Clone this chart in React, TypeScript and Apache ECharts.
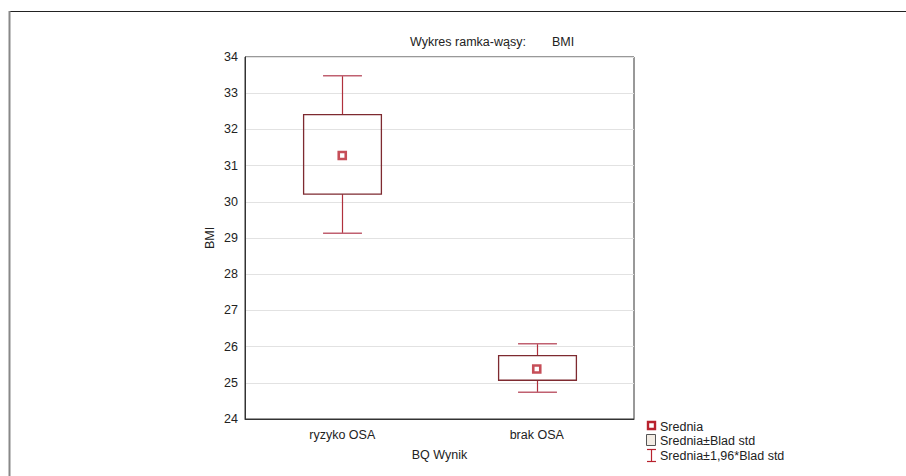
import React, { useEffect, useRef } from "react";
import * as echarts from "echarts";

const categories = ["ryzyko OSA", "brak OSA"];
const means = [31.28, 25.38];
const boxLow = [30.21, 25.07];
const boxHigh = [32.41, 25.75];
const whiskerLow = [29.13, 24.74];
const whiskerHigh = [33.48, 26.08];
const yTicks = [24, 25, 26, 27, 28, 29, 30, 31, 32, 33, 34];

const FONT = "Liberation Sans, Arial, sans-serif";
const BOX_COLOR = "#7e2a30";
const WHISKER_COLOR = "#b0303c";
const MEAN_COLOR = "#b8222e";

export default function App() {
  const ref = useRef<HTMLDivElement>(null);
  useEffect(() => {
    if (!ref.current) return;
    const chart = echarts.init(ref.current, undefined, { renderer: "svg" });
    const boxData = categories.map((c, i) => [i, whiskerLow[i], boxLow[i], boxHigh[i], whiskerHigh[i]]);
    const option: any = {
      animation: false,
      backgroundColor: "#ffffff",
      grid: { left: 245, right: 272, top: 57, bottom: 57, show: true, borderColor: "#333", borderWidth: 1 },
      xAxis: {
        type: "category",
        data: categories,
        boundaryGap: true,
        axisLine: { show: true, lineStyle: { color: "#333" } },
        axisTick: { show: false },
        axisLabel: { color: "#222", fontFamily: FONT, fontSize: 12.5, margin: 9 },
        name: "BQ Wynik",
        nameLocation: "middle",
        nameGap: 29,
        nameTextStyle: { color: "#222", fontFamily: FONT, fontSize: 12.5 },
      },
      yAxis: {
        type: "value",
        min: yTicks[0],
        max: yTicks[yTicks.length - 1],
        interval: 1,
        axisLine: { show: true, lineStyle: { color: "#333" } },
        axisTick: { show: false },
        splitLine: { show: true, lineStyle: { color: "#e2e2e2" } },
        axisLabel: { color: "#222", fontFamily: FONT, fontSize: 12.5, margin: 7 },
        name: "BMI",
        nameLocation: "middle",
        nameGap: 29,
        nameTextStyle: { color: "#222", fontFamily: FONT, fontSize: 12.5 },
      },
      series: [
        {
          type: "custom",
          data: boxData,
          encode: { x: 0, y: [1, 2, 3, 4] },
          renderItem: (params: any, api: any) => {
            const x = api.value(0);
            const pWL = api.coord([x, api.value(1)]);
            const pBL = api.coord([x, api.value(2)]);
            const pBH = api.coord([x, api.value(3)]);
            const pWH = api.coord([x, api.value(4)]);
            const band = api.size([1, 0])[0];
            const bw = band * 0.4;
            const cw = band * 0.2;
            const cx = Math.round(pWL[0]) + 0.5;
            return {
              type: "group",
              children: [
                { type: "line", shape: { x1: cx, y1: pWH[1], x2: cx, y2: pBH[1] }, style: { stroke: WHISKER_COLOR, lineWidth: 1.2 } },
                { type: "line", shape: { x1: cx, y1: pBL[1], x2: cx, y2: pWL[1] }, style: { stroke: WHISKER_COLOR, lineWidth: 1.2 } },
                { type: "line", shape: { x1: cx - cw / 2, y1: pWH[1], x2: cx + cw / 2, y2: pWH[1] }, style: { stroke: "#c06070", lineWidth: 1.5 } },
                { type: "line", shape: { x1: cx - cw / 2, y1: pWL[1], x2: cx + cw / 2, y2: pWL[1] }, style: { stroke: "#c06070", lineWidth: 1.5 } },
                {
                  type: "rect",
                  shape: { x: cx - bw / 2, y: pBH[1], width: bw, height: pBL[1] - pBH[1] },
                  style: { fill: "none", stroke: BOX_COLOR, lineWidth: 1.3 },
                },
              ],
            };
          },
          z: 3,
        },
        {
          type: "scatter",
          data: means.map((m, i) => [i, m]),
          symbol: "rect",
          symbolSize: 7,
          itemStyle: { color: "#ffffff", borderColor: MEAN_COLOR, borderWidth: 2.6 },
          z: 5,
        },
      ],
      graphic: [
        { type: "line", shape: { x1: 9, y1: 11.5, x2: 906, y2: 11.5 }, style: { stroke: "#222", lineWidth: 1 } },
        { type: "line", shape: { x1: 9.5, y1: 11, x2: 9.5, y2: 476 }, style: { stroke: "#888", lineWidth: 2 } },
        { type: "text", left: 410, top: 35, style: { text: "Wykres ramka-wąsy:", fill: "#222", font: "12.5px " + FONT } },
        { type: "text", left: 552, top: 35, style: { text: "BMI", fill: "#222", font: "12.5px " + FONT } },
        { type: "rect", shape: { x: 648, y: 422, width: 7, height: 7 }, style: { fill: "#fff", stroke: MEAN_COLOR, lineWidth: 2.4 } },
        { type: "text", left: 660, top: 420, style: { text: "Srednia", fill: "#222", font: "12.5px " + FONT } },
        { type: "rect", shape: { x: 646.5, y: 434.5, width: 9, height: 11 }, style: { fill: "#f2ece4", stroke: "#555", lineWidth: 1 } },
        { type: "text", left: 660, top: 434, style: { text: "Srednia±Blad std", fill: "#222", font: "12.5px " + FONT } },
        { type: "line", shape: { x1: 647, y1: 449.5, x2: 656, y2: 449.5 }, style: { stroke: MEAN_COLOR, lineWidth: 1.2 } },
        { type: "line", shape: { x1: 651.5, y1: 449.5, x2: 651.5, y2: 461.5 }, style: { stroke: MEAN_COLOR, lineWidth: 1.2 } },
        { type: "line", shape: { x1: 647, y1: 461.5, x2: 656, y2: 461.5 }, style: { stroke: MEAN_COLOR, lineWidth: 1.2 } },
        { type: "text", left: 660, top: 449, style: { text: "Srednia±1,96*Blad std", fill: "#222", font: "12.5px " + FONT } },
      ],
    };
    chart.setOption(option);
    return () => chart.dispose();
  }, []);
  return <div ref={ref} style={{ position: "fixed", left: 0, top: 0, width: 906, height: 476 }} />;
}
